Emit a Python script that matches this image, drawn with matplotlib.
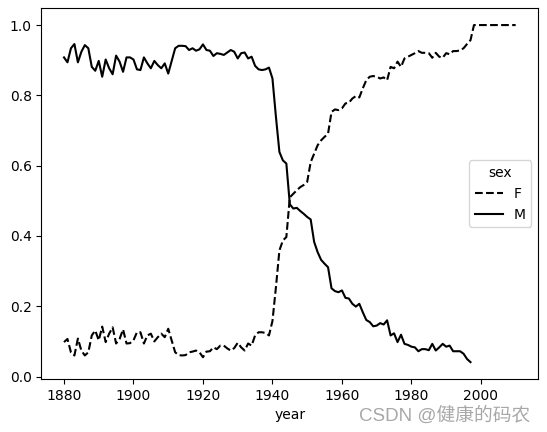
import matplotlib
matplotlib.use("Agg")
import matplotlib.pyplot as plt
import numpy as np

# proportion of babies named Lesley-like names, by sex
years_f = list(range(1880, 2011))
years_m = list(range(1880, 1998))

F = [0.098, 0.107, 0.069, 0.060, 0.108, 0.074, 0.060, 0.069, 0.117, 0.131,
     0.103, 0.142, 0.098, 0.122, 0.140, 0.094, 0.107, 0.134, 0.094, 0.095,
     0.103, 0.126, 0.126, 0.094, 0.117, 0.122, 0.100, 0.112, 0.122, 0.112,
     0.136, 0.103, 0.069, 0.061, 0.060, 0.061, 0.069, 0.071, 0.074, 0.069,
     0.055, 0.071, 0.072, 0.083, 0.078, 0.088, 0.088, 0.080, 0.074, 0.081,
     0.096, 0.083, 0.074, 0.094, 0.088, 0.117, 0.126, 0.126, 0.124, 0.117,
     0.158, 0.254, 0.359, 0.387, 0.397, 0.510, 0.520, 0.530, 0.539, 0.545,
     0.554, 0.610, 0.634, 0.658, 0.672, 0.682, 0.691, 0.753, 0.760, 0.758,
     0.763, 0.777, 0.779, 0.791, 0.798, 0.794, 0.820, 0.843, 0.853, 0.855,
     0.853, 0.848, 0.851, 0.843, 0.881, 0.877, 0.896, 0.881, 0.905, 0.910,
     0.915, 0.920, 0.926, 0.921, 0.921, 0.920, 0.907, 0.921, 0.910, 0.907,
     0.920, 0.917, 0.926, 0.926, 0.928, 0.934, 0.946, 0.957, 1.0, 1.0,
     1.0, 1.0, 1.0, 1.0, 1.0, 1.0, 1.0, 1.0, 1.0, 1.0,
     1.0]

M = [0.908, 0.894, 0.934, 0.946, 0.894, 0.924, 0.943, 0.934, 0.881, 0.870,
     0.898, 0.853, 0.902, 0.877, 0.860, 0.913, 0.896, 0.867, 0.908, 0.908,
     0.902, 0.874, 0.872, 0.908, 0.891, 0.877, 0.898, 0.886, 0.877, 0.891,
     0.862, 0.898, 0.934, 0.941, 0.941, 0.940, 0.929, 0.934, 0.927, 0.931,
     0.945, 0.929, 0.927, 0.912, 0.920, 0.918, 0.915, 0.922, 0.929, 0.924,
     0.905, 0.920, 0.922, 0.905, 0.910, 0.884, 0.874, 0.872, 0.874, 0.879,
     0.848, 0.739, 0.639, 0.615, 0.606, 0.490, 0.478, 0.480, 0.471, 0.463,
     0.454, 0.447, 0.383, 0.354, 0.332, 0.321, 0.311, 0.251, 0.243, 0.240,
     0.245, 0.224, 0.222, 0.207, 0.199, 0.207, 0.183, 0.161, 0.155, 0.143,
     0.145, 0.152, 0.148, 0.160, 0.117, 0.123, 0.098, 0.119, 0.093, 0.090,
     0.085, 0.083, 0.072, 0.078, 0.078, 0.075, 0.093, 0.074, 0.083, 0.093,
     0.085, 0.088, 0.072, 0.072, 0.072, 0.065, 0.050, 0.041]

fig = plt.figure(figsize=(5.47, 4.32), dpi=100)
ax = fig.add_axes([0.0757, 0.1227, 0.9083, 0.8583])

ax.plot(years_f, F, 'k--', label='F')
ax.plot(years_m, M, 'k-', label='M')
ax.set_xlabel('year')
ax.set_xticks([1880, 1900, 1920, 1940, 1960, 1980, 2000])
ax.set_yticks([0.0, 0.2, 0.4, 0.6, 0.8, 1.0])
ax.legend(title='sex', loc='center right')

# watermark
fig.text(0.969, 0.026, 'CSDN @健康的码农', ha='right', va='baseline',
         fontsize=13.5, color='#a8a8a8',
         family=['Liberation Sans', 'Noto Sans CJK SC'])

fig.savefig('out.png', dpi=100)
